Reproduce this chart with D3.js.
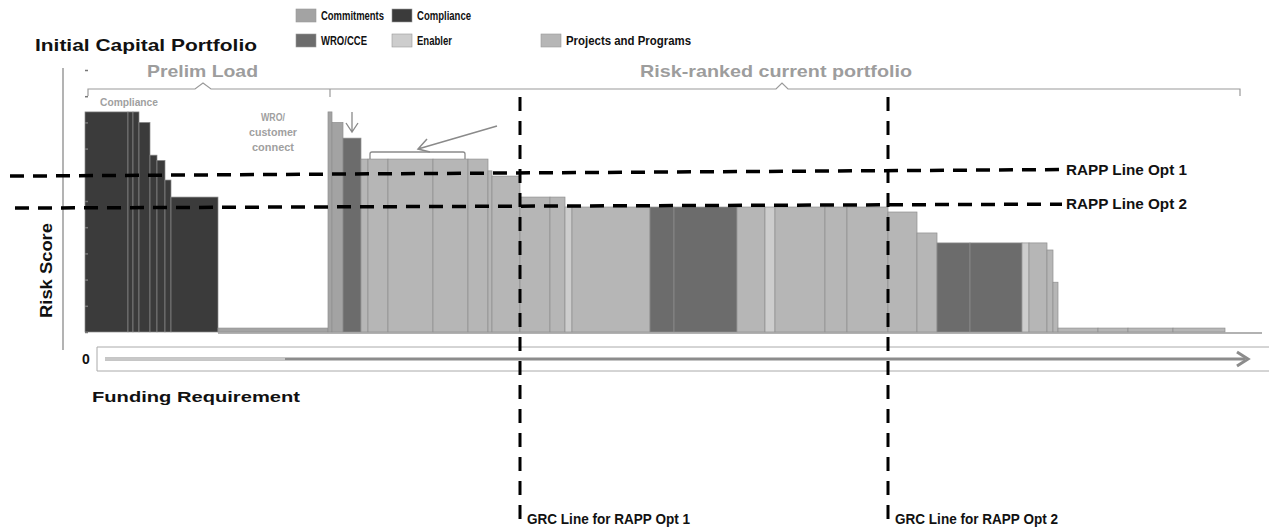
<!DOCTYPE html>
<html>
<head>
<meta charset="utf-8">
<script src="https://cdn.jsdelivr.net/npm/d3@7"></script>
<style>
  body { margin: 0; background: #fff; }
  svg { display: block; font-family: "Liberation Sans", Arial, sans-serif; }
</style>
</head>
<body>
<div id="chart"></div>
<script>
// chart data: each bar is one project, width = funding, height = risk score
const funding = [43, 5, 6, 11, 7, 8, 6, 47, 110,
  4, 11, 18, 7, 20, 45, 35, 20, 4, 28, 30, 15, 7, 78, 24, 63, 28, 10, 50, 22, 41,
  29, 20, 33, 52, 7, 18, 6, 5, 40, 30, 45, 52];
const risk = [84, 84, 84, 80, 67.5, 65.5, 58, 51.5, 1.5,
  84, 80, 74, 66, 66, 66, 66, 66, 61.5, 59.5, 51.5, 51.5, 47.7, 47.7, 47.7, 47.7, 47.7, 47.7, 47.7, 47.7, 47.7,
  45.8, 37.8, 34, 34, 34, 34, 31.3, 19, 1.5, 1.5, 1.5, 1.5];
const category = ["Compliance", "Compliance", "Compliance", "Compliance", "Compliance", "Compliance", "Compliance", "Compliance", "Commitments",
  "Commitments", "Commitments", "WRO/CCE", "Projects and Programs", "Projects and Programs", "Projects and Programs", "Projects and Programs", "Projects and Programs",
  "Projects and Programs", "Projects and Programs", "Projects and Programs", "Projects and Programs", "Enabler", "Projects and Programs",
  "WRO/CCE", "WRO/CCE", "Projects and Programs", "Enabler", "Projects and Programs", "Projects and Programs", "Projects and Programs",
  "Projects and Programs", "Projects and Programs", "WRO/CCE", "WRO/CCE", "Enabler", "Projects and Programs", "Projects and Programs",
  "Projects and Programs", "Projects and Programs", "Projects and Programs", "Projects and Programs", "Projects and Programs"];

const legendRow1 = ["Commitments", "Compliance"];
const legendRow2 = ["WRO/CCE", "Enabler", "Projects and Programs"];

const rappLines = [{name: "RAPP Line Opt 1", from: 59.5, to: 62}, {name: "RAPP Line Opt 2", from: 47.3, to: 48.8}];
const grcFunding = [435, 803];
const grcLabels = ["GRC Line for RAPP Opt 1", "GRC Line for RAPP Opt 2"];
const yTicks = d3.range(0, 101, 10);

const width = 1269, height = 529;
const colors = {
  "Commitments": "#a3a3a3",
  "Compliance": "#3b3b3b",
  "WRO/CCE": "#6c6c6c",
  "Enabler": "#cdcdcd",
  "Projects and Programs": "#b6b6b6"
};

const svg = d3.select("#chart").append("svg")
  .attr("width", width)
  .attr("height", height);

const x = d3.scaleLinear().domain([0, 1180]).range([85, 1265]);
const y = d3.scaleLinear().domain([0, 100]).range([332, 70]);

const starts = [0, ...d3.cumsum(funding)];
const bars = funding.map((f, i) => ({x0: starts[i], x1: starts[i] + f, v: risk[i], c: category[i]}));

// helper for text fitted to a width
function label(txt, px, py, size, len, opts = {}) {
  const t = svg.append("text")
    .attr("x", px).attr("y", py)
    .attr("font-size", size)
    .attr("font-weight", opts.weight || "bold")
    .attr("fill", opts.fill || "#111")
    .text(txt);
  if (len) t.attr("textLength", len).attr("lengthAdjust", "spacingAndGlyphs");
  if (opts.anchor) t.attr("text-anchor", opts.anchor);
  return t;
}

// title + legend
label("Initial Capital Portfolio", 35, 51, 17, 222);
legendRow1.forEach((d, i) => {
  const lx = [296, 392][i];
  svg.append("rect").attr("x", lx).attr("y", 9).attr("width", 20).attr("height", 13)
    .attr("fill", colors[d]).attr("stroke", "#999").attr("stroke-width", 0.6);
  label(d, lx + 25, 20, 12, [63, 54][i]);
});
legendRow2.forEach((d, i) => {
  const lx = [296, 392, 541][i];
  svg.append("rect").attr("x", lx).attr("y", 34).attr("width", 20).attr("height", 13)
    .attr("fill", colors[d]).attr("stroke", "#999").attr("stroke-width", 0.6);
  label(d, lx + 25, 45, 12, [46, 35, 125][i]);
});

// section headers with braces
label("Prelim Load", 147, 77, 17, 111, {fill: "#9d9d9d"});
label("Risk-ranked current portfolio", 640, 77, 17, 272, {fill: "#9d9d9d"});
svg.append("path")
  .attr("d", "M88,96 L88,89 L195,89 L203,83 L211,89 L330,89 L776,89 L782,83 L788,89 L1240,89 L1240,96")
  .attr("fill", "none").attr("stroke", "#9a9a9a").attr("stroke-width", 1.2);
svg.append("line").attr("x1", 330).attr("x2", 330).attr("y1", 89).attr("y2", 97)
  .attr("stroke", "#9a9a9a").attr("stroke-width", 1.2);

// y axis side line + label
svg.append("line").attr("x1", 63).attr("x2", 63).attr("y1", 68).attr("y2", 350)
  .attr("stroke", "#9a9a9a").attr("stroke-width", 1.5);
label("Risk Score", 0, 0, 16, 95).attr("transform", "translate(52,318) rotate(-90)");

// bars
svg.append("g").selectAll("rect")
  .data(bars)
  .join("rect")
  .attr("x", d => x(d.x0))
  .attr("y", d => y(d.v))
  .attr("width", d => x(d.x1) - x(d.x0))
  .attr("height", d => y(0) - y(d.v))
  .attr("fill", d => colors[d.c])
  .attr("stroke", d => d.c === "Compliance" ? "#8a8a8a" : "#8f8f8f")
  .attr("stroke-width", 0.7);

// small ticks on the value scale
svg.append("g")
  .attr("transform", `translate(${x(0) + 3},0)`)
  .call(d3.axisLeft(y).tickValues(yTicks).tickSize(3).tickFormat(""))
  .call(g => g.select(".domain").remove())
  .call(g => g.selectAll("line").attr("stroke", "#777").attr("stroke-width", 1.5));

// baseline under bars
svg.append("line").attr("x1", x(starts[8])).attr("x2", x(1177)).attr("y1", y(0) + 1).attr("y2", y(0) + 1)
  .attr("stroke", "#999").attr("stroke-width", 1.5);

// annotations
label("Compliance", 100, 106, 10, 58, {fill: "#a0a0a0"});
["WRO/", "customer", "connect"].forEach((t, i) =>
  label(t, 273, 121 + i * 15, 11, [24, 48, 42][i], {fill: "#a0a0a0", anchor: "middle"}));
svg.append("path").attr("d", "M352,112 L352,132 M346,123 L352,132 L358,123")
  .attr("fill", "none").attr("stroke", "#8a8a8a").attr("stroke-width", 1.3);
svg.append("path").attr("d", "M497,126 L418,149 M427,139 L418,149 L430,152")
  .attr("fill", "none").attr("stroke", "#8a8a8a").attr("stroke-width", 1.5);
svg.append("path").attr("d", "M370,159 L370,154 Q370,152 372,152 L463,152 Q465,152 465,154 L465,159")
  .attr("fill", "none").attr("stroke", "#8a8a8a").attr("stroke-width", 1.3);

// x axis box and arrow
svg.append("line").attr("x1", 97).attr("x2", width).attr("y1", 347).attr("y2", 347).attr("stroke", "#aaa").attr("stroke-width", 1);
svg.append("line").attr("x1", 97).attr("x2", width).attr("y1", 371).attr("y2", 371).attr("stroke", "#aaa").attr("stroke-width", 1);
svg.append("line").attr("x1", 97).attr("x2", 97).attr("y1", 347).attr("y2", 371).attr("stroke", "#aaa").attr("stroke-width", 1);
svg.append("line").attr("x1", x(20)).attr("x2", x(1160)).attr("y1", 359).attr("y2", 359)
  .attr("stroke", "#8c8c8c").attr("stroke-width", 3);
svg.append("line").attr("x1", x(20)).attr("x2", x(200)).attr("y1", 359).attr("y2", 359)
  .attr("stroke", "#c8c8c8").attr("stroke-width", 3);
svg.append("path").attr("d", `M${x(1152)},352 L${x(1163)},359 L${x(1152)},366`)
  .attr("fill", "none").attr("stroke", "#8c8c8c").attr("stroke-width", 3);
label("0", 82, 364, 14, null);
label("Funding Requirement", 92, 402, 15, 208);

// RAPP lines (dashed, slightly sloped)
rappLines.forEach((r, i) => {
  const xs = [[10, 1062], [15, 1062]][i];
  svg.append("line")
    .attr("x1", xs[0]).attr("x2", xs[1])
    .attr("y1", y(r.from)).attr("y2", y(r.to))
    .attr("stroke", "#000").attr("stroke-width", 3.5)
    .attr("stroke-dasharray", "14,9");
  label(r.name, 1066, y(r.to) + 5, 14, 121);
});

// GRC lines
grcFunding.forEach((g, i) => {
  svg.append("line")
    .attr("x1", x(g)).attr("x2", x(g))
    .attr("y1", 97).attr("y2", 527)
    .attr("stroke", "#000").attr("stroke-width", 3)
    .attr("stroke-dasharray", "14,10");
  label(grcLabels[i], x(g) + 7, 524, 14, 163);
});
</script>
</body>
</html>
